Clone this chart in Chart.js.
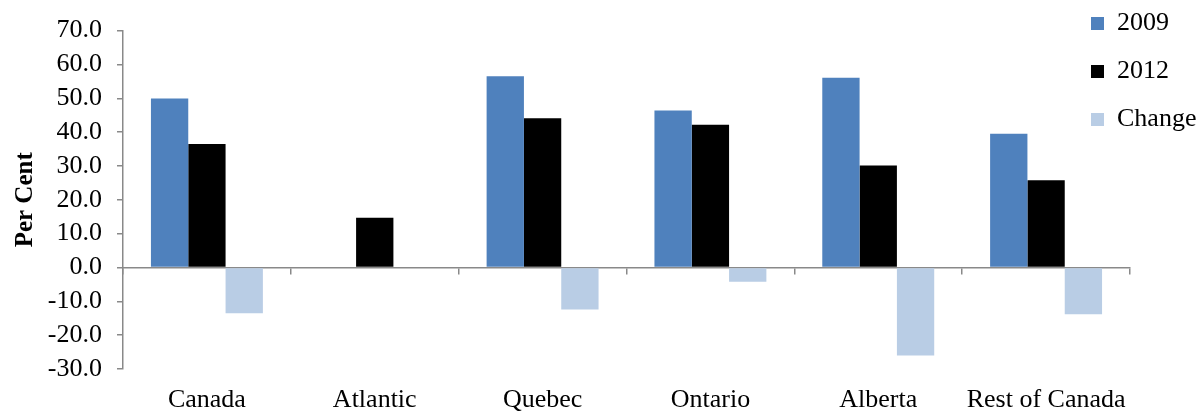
<!DOCTYPE html>
<html>
<head>
<meta charset="utf-8">
<script src="https://cdn.jsdelivr.net/npm/chart.js@4/dist/chart.umd.min.js"></script>
<style>
  html, body { margin: 0; padding: 0; background: #fff; }
  #wrap { width: 1197px; height: 413px; position: relative; }
</style>
</head>
<body>
<div id="wrap"><canvas id="c"></canvas></div>
<script>
const categories = ['Canada', 'Atlantic', 'Quebec', 'Ontario', 'Alberta', 'Rest of Canada'];
const values2009 = [49.9, null, 56.5, 46.4, 56.1, 39.5];
const values2012 = [36.5, 14.7, 44.1, 42.2, 30.1, 25.8];
const valuesChange = [-13.5, null, -12.4, -4.2, -26.0, -13.8];
const seriesNames = ['2009', '2012', 'Change'];
const yTicks = { min: -30, max: 70, step: 10 };

const FONT = "'Liberation Serif', 'Times New Roman', serif";
const AXIS_GREY = '#898989';
const LEGEND_PAD = 22;

const legendPlacer = {
  id: 'legendPlacer',
  beforeLayout(chart) {
    const lg = chart.legend;
    if (lg && !lg._wrappedFit) {
      const fit = lg.fit;
      lg.fit = function () { fit.call(this); this.width = 67; };
      lg._wrappedFit = true;
    }
  },
  afterLayout(chart) {
    const lg = chart.legend;
    if (lg) {
      lg.left = 1091 - LEGEND_PAD;
      lg.right = chart.width;
      lg.width = lg.right - lg.left;
      lg.top = 23.5 - LEGEND_PAD - 13;
      lg.bottom = 200;
      lg.height = lg.bottom - lg.top;
    }
  }
};

new Chart(document.getElementById('c'), {
  type: 'bar',
  data: {
    labels: categories,
    datasets: [
      { label: seriesNames[0], data: values2009, backgroundColor: '#4F81BD', xAxisID: 'x' },
      { label: seriesNames[1], data: values2012, backgroundColor: '#000000', xAxisID: 'x' },
      { label: seriesNames[2], data: valuesChange, backgroundColor: '#B9CDE5', xAxisID: 'x' }
    ]
  },
  options: {
    responsive: true,
    maintainAspectRatio: false,
    animation: false,
    devicePixelRatio: 1,
    layout: { padding: { top: 26, left: 0, right: 0, bottom: -18 } },
    datasets: { bar: { categoryPercentage: 0.667, barPercentage: 1.0, grouped: true } },
    plugins: {
      tooltip: { enabled: false },
      legend: {
        position: 'right',
        align: 'start',
        labels: {
          boxWidth: 13,
          boxHeight: 13,
          padding: LEGEND_PAD,
          color: '#000',
          font: { family: FONT, size: 26 }
        }
      }
    },
    scales: {
      x: {
        type: 'category',
        position: { y: 0 },
        offset: true,
        afterFit: s => { s.height = 0; },
        ticks: { display: false },
        grid: { display: true, drawOnChartArea: false, drawTicks: true, tickLength: 6, color: AXIS_GREY, offset: true, lineWidth: 1.5 },
        border: { display: true, color: AXIS_GREY, width: 1.5 }
      },
      xb: {
        type: 'category',
        labels: categories,
        position: 'bottom',
        offset: true,
        grid: { display: false, drawTicks: false },
        border: { display: false },
        ticks: { color: '#000', padding: 18, maxRotation: 0, autoSkip: false, font: { family: FONT, size: 26, lineHeight: 1 } }
      },
      y: {
        min: yTicks.min,
        max: yTicks.max,
        afterFit: s => { s.width = 123; },
        ticks: {
          stepSize: yTicks.step,
          autoSkip: false,
          color: '#000',
          padding: 15,
          font: { family: FONT, size: 26 },
          callback: v => Number(v).toFixed(1)
        },
        grid: { display: true, drawOnChartArea: false, drawTicks: true, tickLength: 6, color: AXIS_GREY, lineWidth: 1.5 },
        border: { display: true, color: AXIS_GREY, width: 1.5 },
        title: {
          display: true,
          text: 'Per Cent',
          color: '#000',
          padding: { top: 11, bottom: 7 },
          font: { family: FONT, size: 25, weight: 'bold' }
        }
      }
    }
  },
  plugins: [legendPlacer]
});
</script>
</body>
</html>
